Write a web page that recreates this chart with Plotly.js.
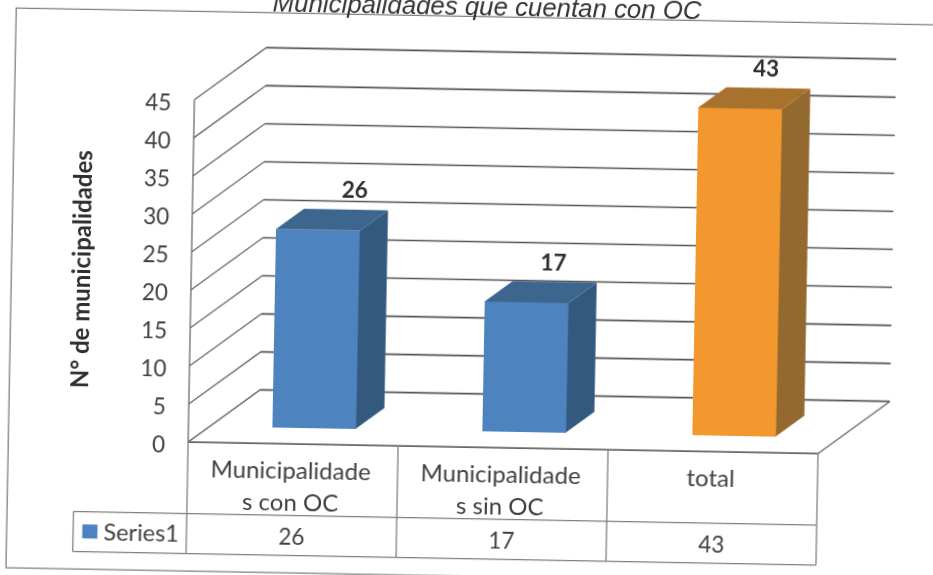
<!DOCTYPE html>
<html>
<head>
<meta charset="utf-8">
<script src="https://cdn.plot.ly/plotly-3.0.1.min.js"></script>
<style>
html,body{margin:0;padding:0;width:933px;height:575px;overflow:hidden;background:#fff}
#plot{position:absolute;left:-40px;top:-40px;width:1013px;height:655px;
 transform-origin:506.5px 327.5px;transform:rotate(1.05deg);filter:blur(0.55px)}
</style>
</head>
<body>
<div id="plot"></div>
<script>
const chartTitle = "Municipalidades que cuentan con OC";
const yTitle = "N° de municipalidades";
const seriesName = "Series1";
const categories = ["Municipalidade<br>s con OC", "Municipalidade<br>s sin OC", "total"];
const values = [26, 17, 43];
const yTicks = [0, 5, 10, 15, 20, 25, 30, 35, 40, 45];
const frontColors = ["#4d84bf", "#4d84bf", "#f2982f"];
const topColors = ["#3c668e", "#3c668e", "#a9722c"];
const sideColors = ["#33597f", "#33597f", "#94692f"];

// projection of the 3-D box, in axis units
const wallDx = 0.338, wallDy = 7.03;      // floor depth
const barShift = 0.0986, barBase = 2.18;  // bars stand inside the floor
const barWidth = 0.4, barDx = 0.133, barDy = 2.76; // bar depth
const labelDx = [0.171, 0.124, 0.121], labelDy = 5.4;

const W = 1013, H = 655, off = 40;
const xMin = -1.1, xMax = 2.9, yMin = -15.5, yMax = 53;
const xPx = 210, yPx = 7.61;
const plotL = 191.3 + (xMin + 0.5) * xPx + off;
const plotT = 447.4 - yMax * yPx + off;
const plotW = (xMax - xMin) * xPx, plotH = (yMax - yMin) * yPx;

const ink = "#404040";
const font = "Lato, 'Open Sans', sans-serif";

const shapes = [];
function seg(x0, y0, x1, y1, color, width) {
  shapes.push({type: "line", layer: "below", xref: "x", yref: "y", x0, y0, x1, y1,
    line: {color, width}});
}
// outer frame
shapes.push({type: "rect", layer: "below", xref: "paper", yref: "paper",
  x0: (51.5 - plotL) / plotW, x1: (1005 - plotL) / plotW,
  y0: 1 - (616.5 - plotT) / plotH, y1: 1 - (56.5 - plotT) / plotH,
  line: {color: "#808080", width: 1.3}});
// walls
const left = -0.5, right = 2.5;
yTicks.forEach(v => {
  seg(left, v, left + wallDx, v + wallDy, "#6a6a6a", 1.3);
  seg(left + wallDx, v + wallDy, right + wallDx, v + wallDy, "#555555", 1.6);
});
seg(left, 0, left, yTicks[yTicks.length - 1], "#6a6a6a", 1.3);
seg(right, 0, right + wallDx, wallDy, "#7a7a7a", 1.3);
// data table
const rowY = -9.4, botY = -14.66, legX = -1.04;
seg(left, 0, right, 0, "#666666", 1.6);
seg(left, 0, left, botY, "#808080", 1.3);
[0.5, 1.5, 2.5].forEach(x => seg(x, 0, x, botY, "#808080", 1.3));
seg(legX, rowY, right, rowY, "#808080", 1.3);
seg(legX, botY, right, botY, "#808080", 1.3);
seg(legX, rowY, legX, botY, "#808080", 1.3);
shapes.push({type: "rect", layer: "above", xref: "x", yref: "y",
  x0: -0.996, x1: -0.924, y0: -12.92, y1: -11.08,
  fillcolor: frontColors[0], line: {width: 0}});

const annotations = [];
function note(x, y, text, size, bold, angle) {
  annotations.push({xref: "x", yref: "y", x, y, text, showarrow: false,
    xanchor: "center", yanchor: "middle", textangle: angle || 0,
    font: {family: font, size, color: bold ? "#2e2e2e" : ink, weight: bold ? 700 : 400}});
}
categories.forEach((c, i) => {
  c.split("<br>").forEach((line, k) => note(i - 0.01, k ? -7.55 : -3.4, line, 24));
  note(i, -12.1, String(values[i]), 22.5);
  note(i + barShift + labelDx[i], barBase + values[i] + labelDy, String(values[i]), 22.5, true);
});
note(-0.715, -11.9, seriesName, 23.5);
note(-1.022, 22.5, yTitle, 24, true, -90);

// bar faces
const traces = [{
  type: "bar", name: seriesName, x: values.map((_, i) => i + barShift), y: values,
  base: values.map(() => barBase), width: barWidth,
  marker: {color: frontColors, line: {width: 0}}, hoverinfo: "skip"
}];
values.forEach((v, i) => {
  const xl = i + barShift - barWidth / 2, xr = i + barShift + barWidth / 2;
  const b = barBase, t = barBase + v;
  traces.push({type: "scatter", mode: "lines", hoverinfo: "skip", fill: "toself",
    x: [xr, xr + barDx, xr + barDx, xr, xr], y: [b, b + barDy, t + barDy, t, b],
    fillcolor: sideColors[i], line: {width: 0, color: sideColors[i]}});
  traces.push({type: "scatter", mode: "lines", hoverinfo: "skip", fill: "toself",
    x: [xl, xr, xr + barDx, xl + barDx, xl], y: [t, t, t + barDy, t + barDy, t],
    fillcolor: topColors[i], line: {width: 0, color: topColors[i]}});
});

const layout = {
  width: W, height: H, autosize: false, showlegend: false,
  paper_bgcolor: "#ffffff", plot_bgcolor: "rgba(0,0,0,0)",
  margin: {l: plotL, t: plotT, r: W - plotL - plotW, b: H - plotT - plotH, pad: 0},
  title: {text: "<i>" + chartTitle + "</i>", x: (482 + off) / W, xanchor: "center",
    y: 1 - (5.5 + off) / H, yanchor: "middle",
    font: {family: "'Liberation Sans', Arial, sans-serif", size: 25.8, color: "#333333"}},
  xaxis: {range: [xMin, xMax], visible: false, fixedrange: true},
  yaxis: {range: [yMin, yMax], tickmode: "array", tickvals: yTicks, ticktext: yTicks.map(String),
    anchor: "free", position: (left - xMin) / (xMax - xMin), showgrid: false, zeroline: false,
    showline: false, ticks: "", ticklabelstandoff: 23, ticklabelshift: 3, fixedrange: true,
    tickfont: {family: font, size: 22.5, color: ink}},
  shapes, annotations, bargap: 0
};
Plotly.newPlot("plot", traces, layout, {displayModeBar: false, staticPlot: true});
</script>
</body>
</html>
